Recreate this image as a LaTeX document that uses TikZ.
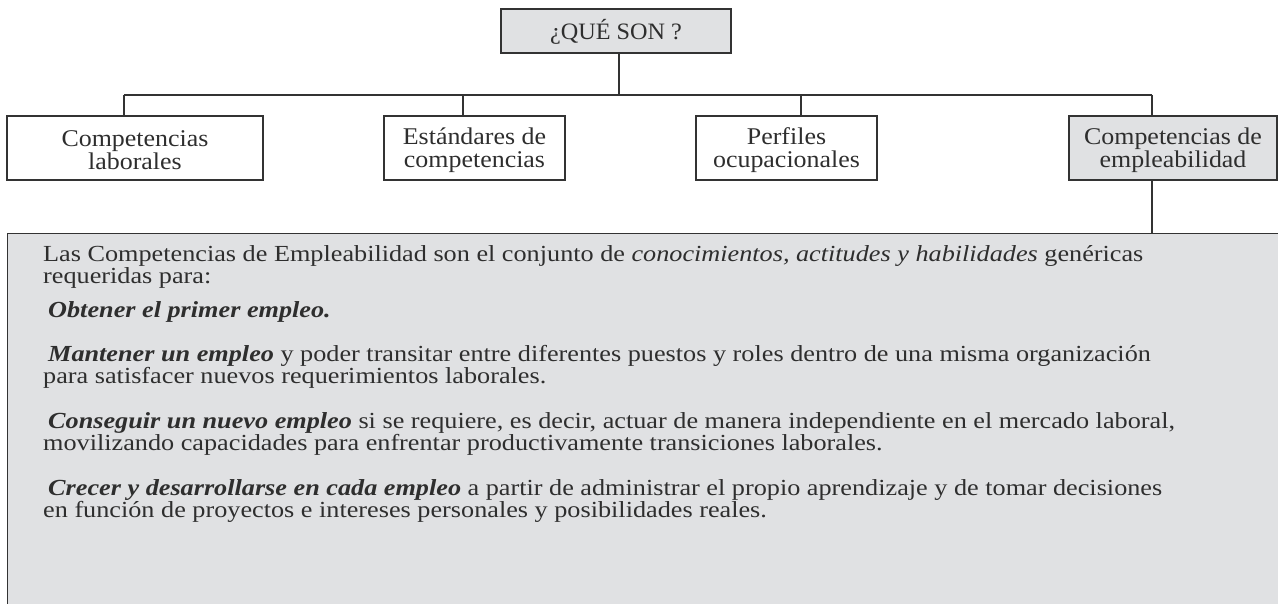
\documentclass[tikz,border=0pt]{standalone}
\usepackage{fontspec}
\setmainfont{Liberation Serif}[FakeStretch=1.14]
\newfontfamily\boxfont{Liberation Serif}[FakeStretch=1.08]
\newfontfamily\topfont{Liberation Serif}[FakeStretch=1.03]
\definecolor{boxgray}{HTML}{E0E1E3}
\definecolor{bordercol}{HTML}{333333}
\definecolor{txt}{HTML}{2E2E2E}
\newcommand{\bi}[1]{\textbf{\textit{#1}}}
\begin{document}
\begin{tikzpicture}[x=1pt,y=-1pt]
\useasboundingbox (0,0) rectangle (1278,604);
\tikzset{
  box/.style={draw=bordercol, line width=1.3pt, minimum height=64pt, inner sep=0pt},
  boxtext/.style={align=center, text=txt, inner sep=0pt, font=\boxfont\fontsize{24}{23}\selectfont},
  toptext/.style={align=center, text=txt, inner sep=0pt, font=\topfont\fontsize{23.5}{23}\selectfont},
  link/.style={draw=bordercol, line width=1.3pt},
  body/.style={anchor=base west, inner sep=0pt, text=txt, font=\fontsize{23}{22}\selectfont}
}
% big box
\node[draw=bordercol, line width=1.3pt, fill=boxgray, anchor=north west,
  minimum width=1290pt, minimum height=390pt, inner sep=0pt] (big) at (7,233) {};
% top box
\node[box, fill=boxgray, minimum width=230pt, minimum height=44pt] (top) at (616,31) {};
\node[toptext] (tt) at (616,32) {¿QUÉ SON ?};
% second row
\node[box, minimum width=256pt] (b1) at (135,148) {};
\node[box, minimum width=181pt] (b2) at (474.5,148) {};
\node[box, minimum width=181pt] (b3) at (786.5,148) {};
\node[box, fill=boxgray, minimum width=208pt] (b4) at (1173,148) {};
\node[boxtext] (t1) at (135,150.5) {Competencias\\laborales};
\node[boxtext] (t2) at (474.5,150.5) {Estándares de\\competencias};
\node[boxtext] (t3) at (786.5,150.5) {Perfiles\\ocupacionales};
\node[boxtext] (t4) at (1173,150.5) {Competencias de\\empleabilidad};
% connectors
\coordinate (j) at (619,95);
\coordinate (c1) at (124,95);
\coordinate (c2) at (463,95);
\coordinate (c3) at (801,95);
\coordinate (c4) at (1152,95);
\draw[link] (top.south -| j) -- (j);
\draw[link] (c1) -- (c4);
\draw[link] (c1) -- (c1 |- b1.north);
\draw[link] (c2) -- (c2 |- b2.north);
\draw[link] (c3) -- (c3 |- b3.north);
\draw[link] (c4) -- (c4 |- b4.north);
\draw[link] (c4 |- b4.south) -- (c4 |- big.north);
% body text
\node[body] (l1) at (43,262) {Las Competencias de Empleabilidad son el conjunto de \textit{conocimientos, actitudes y habilidades} genéricas};
\node[body] (l2) at (43,284) {requeridas para:};
\node[body] (l3) at (48,317) {\bi{Obtener el primer empleo.}};
\node[body] (l4) at (48,361) {\bi{Mantener un empleo} y poder transitar entre diferentes puestos y roles dentro de una misma organización};
\node[body] (l5) at (43,383) {para satisfacer nuevos requerimientos laborales.};
\node[body] (l6) at (48,428) {\bi{Conseguir un nuevo empleo} si se requiere, es decir, actuar de manera independiente en el mercado laboral,};
\node[body] (l7) at (43,450) {movilizando capacidades para enfrentar productivamente transiciones laborales.};
\node[body] (l8) at (48,495) {\bi{Crecer y desarrollarse en cada empleo} a partir de administrar el propio aprendizaje y de tomar decisiones};
\node[body] (l9) at (43,517) {en función de proyectos e intereses personales y posibilidades reales.};
\end{tikzpicture}
\end{document}
